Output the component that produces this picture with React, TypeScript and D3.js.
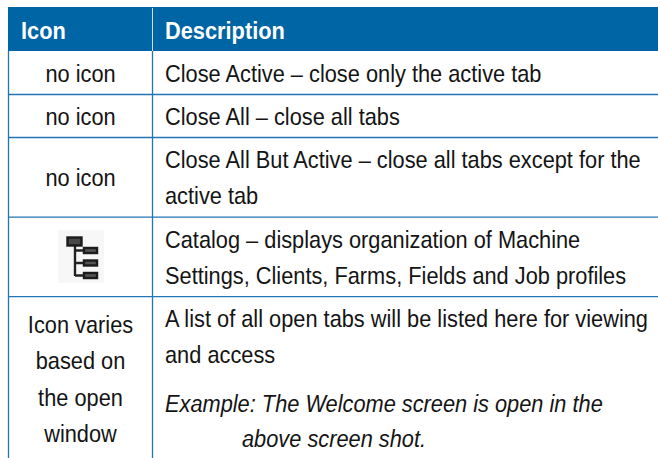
import React from "react";
import * as d3 from "d3";

const headers = ["Icon", "Description"];
const iconColumn = [["no icon"], ["no icon"], ["no icon"], [], ["Icon varies", "based on", "the open", "window"]];
const descriptionColumn = [
  ["Close Active – close only the active tab"],
  ["Close All – close all tabs"],
  ["Close All But Active – close all tabs except for the", "active tab"],
  ["Catalog – displays organization of Machine", "Settings, Clients, Farms, Fields and Job profiles"],
  ["A list of all open tabs will be listed here for viewing", "and access"],
];
const exampleLines = ["Example: The Welcome screen is open in the", "above screen shot."];
const rowLineCounts = [1, 1, 2, 2];

const W = 658, H = 458;
const FONT = "'Liberation Sans', Arial, sans-serif";
const BLUE = "#0065a4";
const LINE = "#2275b5";
const INK = "#141414";

export default function App() {
  const xCol = d3.scaleOrdinal<number, number>().domain([0, 1, 2]).range([8.5, 152.5, 658]);
  const headerBottom = 51;
  const units = d3.scaleLinear().domain([0, 1]).range([headerBottom, headerBottom + 43]);
  const cum = d3.cumsum(rowLineCounts.map(n => (n === 1 ? 1 : 1.85)));
  const rowEdges = [headerBottom, ...Array.from(cum, c => units(c))];
  const rowMid = (i: number) => (rowEdges[i] + rowEdges[i + 1]) / 2;
  const fs = 24;
  const sx = 0.908;
  const txt = (s: string, x: number, y: number, anchor: string, key: string, extra: any = {}) => (
    <text key={key} transform={`translate(${x},${y}) scale(${sx},1)`} textAnchor={anchor} fontSize={fs} fill={INK} fontFamily={FONT} {...extra}>{s}</text>
  );
  const iconCx = 80.5;
  const tx = 165;
  return (
    <svg width={W} height={H} style={{ position: "absolute", left: 0, top: 0 }}>
      <defs>
        <filter id="soft" x="-20%" y="-20%" width="140%" height="140%">
          <feGaussianBlur stdDeviation="0.7" />
        </filter>
      </defs>
      <rect width={W} height={H} fill="#fff" />
      <rect x={8} y={7} width={W - 8} height={headerBottom - 7} fill={BLUE} />
      <line x1={152.5} x2={152.5} y1={8} y2={headerBottom} stroke="#cfe0ee" strokeWidth={1} />
      {headers.map((h, i) => (
        <text key={h} transform={`translate(${i === 0 ? 21 : tx},38.5) scale(${sx},1)`} fontSize={fs} fontWeight="bold" fill="#fff" fontFamily={FONT}>{h}</text>
      ))}
      {rowEdges.slice(1).map((y, i) => (
        <line key={i} x1={8} x2={W} y1={y + 0.5} y2={y + 0.5} stroke={LINE} strokeWidth={1.3} />
      ))}
      {[0, 1].map(i => (
        <line key={i} x1={xCol(i)} x2={xCol(i)} y1={headerBottom} y2={H} stroke={LINE} strokeWidth={1.3} />
      ))}
      {rowLineCounts.map((_, i) => iconColumn[i].map((s, j) => txt(s, iconCx, rowMid(i) + 9.7, "middle", `ic${i}${j}`)))}
      {iconColumn[4].map((s, j) => txt(s, iconCx, 333 + j * 36.3, "middle", `iv${j}`))}
      {descriptionColumn.slice(0, 4).map((lines, i) =>
        lines.map((s, j) => txt(s, tx, rowMid(i) + 9.5 + (j - (lines.length - 1) / 2) * 36, "start", `d${i}${j}`))
      )}
      {descriptionColumn[4].map((s, j) => txt(s, tx, 327 + j * 36, "start", `e${j}`))}
      {exampleLines.map((s, j) => txt(s, j === 0 ? tx : 242, 412 + j * 35.2, "start", `x${j}`, { fontStyle: "italic" }))}
      <rect x={58} y={230} width={46} height={53} fill="#f7f7f7" />
      <g filter="url(#soft)">
        <path d="M75 246V276M75 250.500H84M75 263H84M75 275.500H84" stroke="#222" strokeWidth={2.4} fill="none" />
        <rect x={67.500} y={237.500} width={14} height={8} fill="#4a4a4a" stroke="#1a1a1a" strokeWidth={2.4} />
        <rect x={84} y={248} width={13} height={5} fill="#555" stroke="#1a1a1a" strokeWidth={2.4} />
        <rect x={84} y={260.500} width={13} height={5} fill="#555" stroke="#1a1a1a" strokeWidth={2.4} />
        <rect x={84} y={273} width={13} height={5} fill="#555" stroke="#1a1a1a" strokeWidth={2.4} />
      </g>
    </svg>
  );
}
